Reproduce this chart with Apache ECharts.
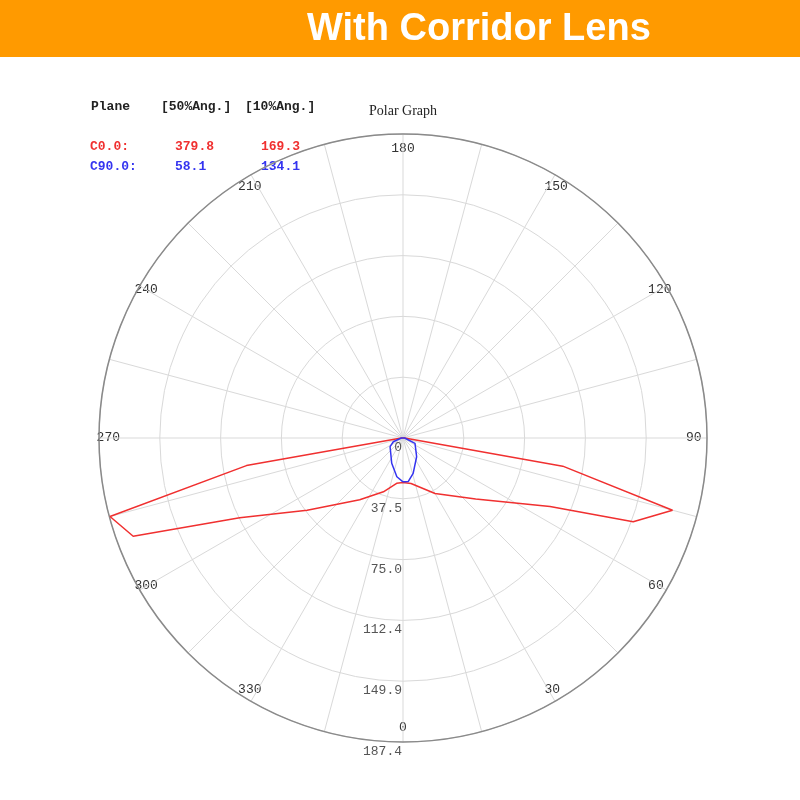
<!DOCTYPE html>
<html>
<head>
<meta charset="utf-8">
<title>With Corridor Lens - Polar Graph</title>
<script src="https://cdn.jsdelivr.net/npm/echarts@6/dist/echarts.min.js"></script>
<style>
  html, body { margin: 0; padding: 0; background: #fff; }
  #chart { width: 800px; height: 800px; }
</style>
</head>
<body>
<div id="chart"></div>
<script>
// C0.0 plane (red): angle in degrees, intensity
const redAngles = [0, 10, 30, 50, 65, 70, 75, 80, 90, 180, 270, 280, 285, 290, 296, 307, 325, 340, 352, 360];
const redValues = [27.5, 28.5, 39.5, 58.5, 100, 151, 172, 100, 1, 0, 1, 98, 187, 177, 112, 74, 46.5, 35.3, 28.2, 27.5];

// C90.0 plane (blue)
const blueAngles = [0, 7, 16, 36, 66, 90, 180, 270, 291, 304, 336, 351, 360];
const blueValues = [27, 27, 22.7, 14.3, 8.1, 1, 0, 1, 6.4, 9.6, 17.1, 24.2, 27];

// radius axis
const radiusMax = 187.4;
const radiusStep = 37.48;

// table text
const planeNames = ['C0.0:', 'C90.0:'];
const halfAngles = ['379.8', '58.1'];
const tenthAngles = ['169.3', '134.1'];
const planeColors = ['#f03030', '#3434f0'];

const chart = echarts.init(document.getElementById('chart'));

const mono = '"Liberation Mono", "DejaVu Sans Mono", monospace';

const tableTexts = [
    { type: 'text', left: 91, top: 100, style: { text: 'Plane', font: 'bold 13px ' + mono, fill: '#222' } },
    { type: 'text', left: 161, top: 100, style: { text: '[50%Ang.]', font: 'bold 13px ' + mono, fill: '#222' } },
    { type: 'text', left: 245, top: 100, style: { text: '[10%Ang.]', font: 'bold 13px ' + mono, fill: '#222' } }
];
planeNames.forEach((name, i) => {
    const y = 140 + i * 20;
    tableTexts.push(
        { type: 'text', left: 90, top: y, style: { text: name, font: 'bold 13px ' + mono, fill: planeColors[i] } },
        { type: 'text', left: 175, top: y, style: { text: halfAngles[i], font: 'bold 13px ' + mono, fill: planeColors[i] } },
        { type: 'text', left: 261, top: y, style: { text: tenthAngles[i], font: 'bold 13px ' + mono, fill: planeColors[i] } }
    );
});

chart.setOption({
    animation: false,
    backgroundColor: '#fff',
    graphic: [
        { type: 'rect', left: 0, top: 0, shape: { width: 800, height: 57 }, style: { fill: '#ff9a00' } },
        {
            type: 'text', left: 307, top: 11,
            style: { text: 'With Corridor Lens', font: 'bold 38px "Liberation Sans", Arial, sans-serif', fill: '#fff' }
        },
        {
            type: 'text', left: 369, top: 104,
            style: { text: 'Polar Graph', font: '14px "Liberation Serif", "DejaVu Serif", serif', fill: '#222' }
        }
    ].concat(tableTexts),
    polar: {
        center: [403, 438],
        radius: 304
    },
    angleAxis: {
        type: 'value',
        min: 0,
        max: 360,
        interval: 15,
        startAngle: -90,
        clockwise: false,
        axisLine: { show: true, lineStyle: { color: '#8a8a8a', width: 1.5 } },
        axisTick: { show: false },
        splitLine: { show: true, lineStyle: { color: '#d9d9d9', width: 1 } },
        axisLabel: {
            margin: -21,
            align: 'center',
            verticalAlign: 'middle',
            fontFamily: mono,
            fontSize: 13,
            color: '#333',
            formatter: v => (v % 30 === 0 && v < 360) ? String(v) : ''
        }
    },
    radiusAxis: {
        type: 'value',
        min: 0,
        max: radiusMax,
        interval: radiusStep,
        axisLine: { show: false },
        axisTick: { show: false },
        splitLine: { show: true, lineStyle: { color: '#d9d9d9', width: 1 } },
        axisLabel: {
            margin: -1,
            align: 'right',
            verticalAlign: 'top',
            padding: [3, 0, 0, 0],
            fontFamily: mono,
            fontSize: 13,
            color: '#555',
            formatter: v => v === 0 ? '0' : v.toFixed(1)
        }
    },
    series: [
        {
            name: 'C0.0',
            type: 'line',
            coordinateSystem: 'polar',
            showSymbol: false,
            lineStyle: { color: planeColors[0], width: 1.5 },
            data: redAngles.map((a, i) => [redValues[i], a])
        },
        {
            name: 'C90.0',
            type: 'line',
            coordinateSystem: 'polar',
            showSymbol: false,
            lineStyle: { color: planeColors[1], width: 1.5 },
            data: blueAngles.map((a, i) => [blueValues[i], a])
        }
    ]
});

window.addEventListener('resize', () => chart.resize());
</script>
</body>
</html>
